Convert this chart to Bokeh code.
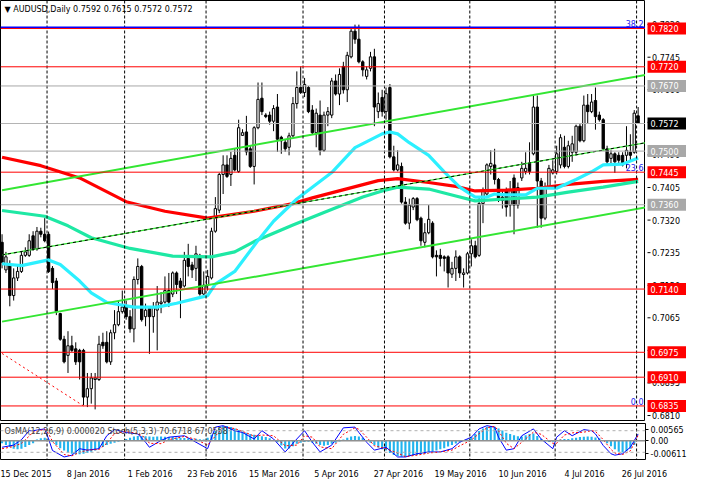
import numpy as np
from bokeh.plotting import figure
from bokeh.models import Range1d, FixedTicker, Label, Span, ColumnDataSource
from bokeh.layouts import column, row
from bokeh.core.properties import value
from bokeh.embed import file_html
from bokeh.resources import INLINE

FONT = "DejaVu Sans"
FS = "8px"

symbol = "AUDUSD,Daily"

opens = [0.7262, 0.7190, 0.7203, 0.7123, 0.7169, 0.7186, 0.7228, 0.7228, 0.7279, 0.7245,
         0.7291, 0.7283, 0.7283, 0.7194, 0.7161, 0.7076, 0.7009, 0.6967, 0.6992, 0.6984,
         0.6980, 0.6980, 0.6858, 0.6880, 0.6904, 0.6904, 0.7001, 0.7001, 0.6950, 0.7026,
         0.7047, 0.7081, 0.7093, 0.7068, 0.7036, 0.7165, 0.7199, 0.7068, 0.7089, 0.7068,
         0.7085, 0.7102, 0.7106, 0.7136, 0.7127, 0.7182, 0.7161, 0.7148, 0.7220, 0.7203,
         0.7194, 0.7228, 0.7127, 0.7150, 0.7169, 0.7291, 0.7346, 0.7439, 0.7464, 0.7439,
         0.7489, 0.7447, 0.7541, 0.7550, 0.7506, 0.7460, 0.7561, 0.7638, 0.7594, 0.7594,
         0.7578, 0.7615, 0.7536, 0.7523, 0.7510, 0.7540, 0.7624, 0.7666, 0.7653, 0.7666,
         0.7607, 0.7548, 0.7594, 0.7502, 0.7594, 0.7594, 0.7683, 0.7649, 0.7721, 0.7660,
         0.7746, 0.7813, 0.7792, 0.7733, 0.7695, 0.7716, 0.7746, 0.7603, 0.7640, 0.7603,
         0.7666, 0.7485, 0.7451, 0.7460, 0.7367, 0.7312, 0.7354, 0.7376, 0.7325, 0.7262,
         0.7287, 0.7312, 0.7228, 0.7228, 0.7224, 0.7224, 0.7179, 0.7194, 0.7224, 0.7178,
         0.7182, 0.7232, 0.7253, 0.7228, 0.7363, 0.7388, 0.7460, 0.7464, 0.7426, 0.7380,
         0.7396, 0.7359, 0.7430, 0.7359, 0.7430, 0.7447, 0.7468, 0.7493, 0.7615, 0.7422,
         0.7325, 0.7405, 0.7443, 0.7447, 0.7464, 0.7510, 0.7460, 0.7497, 0.7497, 0.7565,
         0.7527, 0.7620, 0.7603, 0.7632, 0.7594, 0.7582, 0.7506, 0.7481, 0.7493, 0.7489,
         0.7489, 0.7489, 0.7497, 0.7497, 0.7592]

highs = [0.7283, 0.7237, 0.7215, 0.7194, 0.7203, 0.7237, 0.7249, 0.7283, 0.7291, 0.7302,
         0.7300, 0.7325, 0.7290, 0.7200, 0.7169, 0.7078, 0.7018, 0.7030, 0.7018, 0.7001,
         0.6984, 0.6984, 0.6921, 0.6921, 0.6921, 0.7018, 0.7026, 0.7030, 0.7034, 0.7085,
         0.7110, 0.7136, 0.7110, 0.7085, 0.7173, 0.7220, 0.7203, 0.7102, 0.7095, 0.7106,
         0.7148, 0.7132, 0.7173, 0.7182, 0.7186, 0.7186, 0.7169, 0.7237, 0.7258, 0.7211,
         0.7253, 0.7232, 0.7186, 0.7190, 0.7300, 0.7380, 0.7443, 0.7489, 0.7489, 0.7498,
         0.7506, 0.7582, 0.7557, 0.7592, 0.7515, 0.7565, 0.7679, 0.7679, 0.7599, 0.7603,
         0.7620, 0.7649, 0.7540, 0.7531, 0.7548, 0.7641, 0.7708, 0.7721, 0.7691, 0.7670,
         0.7620, 0.7611, 0.7632, 0.7603, 0.7615, 0.7691, 0.7700, 0.7716, 0.7733, 0.7759,
         0.7822, 0.7830, 0.7830, 0.7737, 0.7721, 0.7759, 0.7767, 0.7653, 0.7660, 0.7666,
         0.7675, 0.7514, 0.7502, 0.7470, 0.7380, 0.7376, 0.7380, 0.7380, 0.7329, 0.7312,
         0.7359, 0.7317, 0.7241, 0.7245, 0.7228, 0.7228, 0.7211, 0.7241, 0.7228, 0.7194,
         0.7237, 0.7270, 0.7266, 0.7380, 0.7405, 0.7468, 0.7502, 0.7506, 0.7430, 0.7396,
         0.7405, 0.7422, 0.7439, 0.7418, 0.7472, 0.7497, 0.7523, 0.7645, 0.7645, 0.7430,
         0.7418, 0.7464, 0.7476, 0.7514, 0.7544, 0.7540, 0.7527, 0.7540, 0.7569, 0.7573,
         0.7645, 0.7649, 0.7649, 0.7666, 0.7603, 0.7586, 0.7514, 0.7502, 0.7497, 0.7497,
         0.7497, 0.7565, 0.7544, 0.7607, 0.7615]

lows = [0.7194, 0.7182, 0.7095, 0.7110, 0.7161, 0.7182, 0.7224, 0.7224, 0.7240, 0.7240,
        0.7275, 0.7262, 0.7182, 0.7140, 0.7072, 0.7005, 0.6946, 0.6921, 0.6976, 0.6942,
        0.6904, 0.6837, 0.6832, 0.6841, 0.6826, 0.6900, 0.6984, 0.6946, 0.6942, 0.7009,
        0.7043, 0.7076, 0.7060, 0.7026, 0.7001, 0.7152, 0.7055, 0.7043, 0.6971, 0.7026,
        0.6980, 0.7077, 0.7102, 0.7093, 0.7119, 0.7127, 0.7064, 0.7144, 0.7173, 0.7169,
        0.7161, 0.7123, 0.7119, 0.7136, 0.7165, 0.7287, 0.7338, 0.7388, 0.7430, 0.7409,
        0.7447, 0.7443, 0.7540, 0.7489, 0.7456, 0.7413, 0.7557, 0.7594, 0.7586, 0.7569,
        0.7552, 0.7498, 0.7493, 0.7498, 0.7489, 0.7536, 0.7611, 0.7649, 0.7641, 0.7599,
        0.7544, 0.7510, 0.7489, 0.7498, 0.7565, 0.7586, 0.7645, 0.7620, 0.7650, 0.7628,
        0.7742, 0.7780, 0.7729, 0.7695, 0.7687, 0.7708, 0.7565, 0.7586, 0.7590, 0.7582,
        0.7481, 0.7447, 0.7447, 0.7363, 0.7308, 0.7296, 0.7346, 0.7317, 0.7253, 0.7249,
        0.7283, 0.7220, 0.7173, 0.7199, 0.7186, 0.7144, 0.7169, 0.7161, 0.7169, 0.7144,
        0.7178, 0.7199, 0.7220, 0.7224, 0.7312, 0.7384, 0.7439, 0.7413, 0.7367, 0.7350,
        0.7329, 0.7329, 0.7283, 0.7350, 0.7422, 0.7439, 0.7439, 0.7489, 0.7300, 0.7300,
        0.7320, 0.7401, 0.7439, 0.7439, 0.7455, 0.7455, 0.7455, 0.7472, 0.7489, 0.7523,
        0.7523, 0.7573, 0.7599, 0.7556, 0.7577, 0.7502, 0.7464, 0.7464, 0.7443, 0.7468,
        0.7460, 0.7455, 0.7472, 0.7493, 0.7572]

closes = [0.7210, 0.7224, 0.7123, 0.7169, 0.7186, 0.7228, 0.7237, 0.7266, 0.7245, 0.7291,
          0.7283, 0.7266, 0.7186, 0.7157, 0.7081, 0.7009, 0.6950, 0.6992, 0.6980, 0.6950,
          0.6950, 0.6858, 0.6880, 0.6908, 0.6908, 0.6996, 0.6992, 0.6950, 0.7026, 0.7047,
          0.7081, 0.7093, 0.7068, 0.7036, 0.7165, 0.7199, 0.7060, 0.7085, 0.7068, 0.7093,
          0.7106, 0.7106, 0.7136, 0.7106, 0.7182, 0.7152, 0.7144, 0.7215, 0.7199, 0.7190,
          0.7232, 0.7127, 0.7150, 0.7173, 0.7291, 0.7350, 0.7439, 0.7464, 0.7434, 0.7481,
          0.7451, 0.7561, 0.7548, 0.7498, 0.7460, 0.7561, 0.7635, 0.7603, 0.7590, 0.7578,
          0.7611, 0.7531, 0.7527, 0.7506, 0.7540, 0.7624, 0.7666, 0.7653, 0.7674, 0.7603,
          0.7548, 0.7599, 0.7502, 0.7594, 0.7603, 0.7683, 0.7649, 0.7700, 0.7660, 0.7750,
          0.7813, 0.7792, 0.7733, 0.7712, 0.7712, 0.7746, 0.7615, 0.7624, 0.7603, 0.7650,
          0.7485, 0.7451, 0.7464, 0.7367, 0.7312, 0.7359, 0.7376, 0.7321, 0.7266, 0.7287,
          0.7322, 0.7224, 0.7224, 0.7220, 0.7220, 0.7182, 0.7194, 0.7224, 0.7182, 0.7182,
          0.7232, 0.7253, 0.7224, 0.7363, 0.7396, 0.7464, 0.7468, 0.7426, 0.7371, 0.7371,
          0.7354, 0.7397, 0.7359, 0.7405, 0.7455, 0.7455, 0.7447, 0.7615, 0.7422, 0.7325,
          0.7405, 0.7455, 0.7451, 0.7493, 0.7535, 0.7460, 0.7514, 0.7519, 0.7565, 0.7527,
          0.7620, 0.7603, 0.7628, 0.7590, 0.7582, 0.7506, 0.7472, 0.7493, 0.7472, 0.7476,
          0.7464, 0.7502, 0.7489, 0.7599, 0.7572]

# moving averages (read at sample bars)
red_ma_idx = [0, 10, 20, 32, 42, 53, 65, 75, 80, 97, 102, 110, 117, 122, 130, 138, 146, 155, 164]
red_ma = [0.7484, 0.7462, 0.7430, 0.7368, 0.7343, 0.7325, 0.7343, 0.7363, 0.7378, 0.7423,
          0.7428, 0.7418, 0.7408, 0.7396, 0.7398, 0.7403, 0.7413, 0.7421, 0.7426]
teal_ma_idx = [0, 11, 17, 23, 33, 44, 54, 60, 65, 75, 83, 93, 98, 102, 110, 117, 122, 130, 138, 146, 155, 164]
teal_ma = [0.7345, 0.7330, 0.7305, 0.7274, 0.7246, 0.7226, 0.7224, 0.7237, 0.7264, 0.7307,
           0.7340, 0.7380, 0.7396, 0.7406, 0.7401, 0.7383, 0.7370, 0.7375, 0.7380, 0.7393,
           0.7406, 0.7421]
cyan_ma_idx = [0, 5, 12, 15, 20, 23, 27, 34, 40, 45, 53, 55, 60, 66, 70, 76, 85, 91, 98, 100,
               102, 105, 110, 114, 118, 122, 125, 127, 130, 135, 138, 143, 148, 152, 155, 160, 164]
cyan_ma = [0.7206, 0.7201, 0.7216, 0.7204, 0.7161, 0.7130, 0.7105, 0.7093, 0.7093, 0.7103,
           0.7123, 0.7153, 0.7186, 0.7267, 0.7317, 0.7375, 0.7444, 0.7509, 0.7545, 0.7550,
           0.7545, 0.7522, 0.7489, 0.7446, 0.7406, 0.7380, 0.7380, 0.7388, 0.7386, 0.7386,
           0.7403, 0.7403, 0.7426, 0.7446, 0.7464, 0.7466, 0.7482]

# trend channel (bar index, price)
channel_x = [0, 166]
channel_upper = [0.7398, 0.7699]
channel_mid = [0.7229, 0.7522]
channel_lower = [0.7055, 0.7353]
fib_trend_x = [0, 21]
fib_trend_y = [0.6972, 0.6835]

red_levels = [0.7820, 0.7720, 0.7445, 0.7140, 0.6975, 0.6910, 0.6835]
gray_levels = [0.7670, 0.7500, 0.7360]
fib_pct = ["38.2", "23.6", "0.0"]
fib_price = [0.7820, 0.7445, 0.6835]
price_ticks = [0.6810, 0.6895, 0.6980, 0.7065, 0.7150, 0.7235, 0.7320, 0.7405,
               0.7490, 0.7575, 0.7660, 0.7745, 0.7830]

period_start_bars = [12, 32, 53, 78, 99, 121, 143, 164]
date_bars = [0, 16, 32, 48, 64, 80, 96, 112, 128, 144, 160]
date_labels = ["15 Dec 2015", "8 Jan 2016", "1 Feb 2016", "23 Feb 2016", "15 Mar 2016",
               "5 Apr 2016", "27 Apr 2016", "19 May 2016", "10 Jun 2016", "4 Jul 2016", "26 Jul 2016"]

osma = [-0.0008, -0.0014, -0.0020,
        -0.0026, -0.0028, -0.0026, -0.0020, -0.0014, -0.0008,
        0.0004, 0.0008, 0.0010,
        0.0004, -0.0004,
        -0.0014, -0.0024, -0.0032, -0.0038, -0.0042, -0.0044, -0.0044, -0.0042, -0.0040, -0.0036, -0.0032, -0.0026,
        -0.0020, -0.0014, -0.0010, -0.0006, -0.0003, -0.0001,
        0.0006, 0.0010, 0.0014, 0.0016, 0.0016, 0.0015, 0.0014, 0.0013, 0.0014, 0.0014, 0.0013, 0.0012, 0.0012, 0.0011, 0.0010,
        0.0009, 0.0008, 0.0007, 0.0007, 0.0005, 0.0004,
        0.0010, 0.0020, 0.0032, 0.0042, 0.0048, 0.0048, 0.0045, 0.0040, 0.0035, 0.0030, 0.0026, 0.0022, 0.0020, 0.0018,
        0.0015, 0.0012, 0.0008, 0.0002,
        -0.0005, -0.0015, -0.0025, -0.0025, -0.0018,
        -0.0010, -0.0006, -0.0004, -0.0003,
        -0.0006, -0.0010, -0.0014, -0.0016, -0.0014, -0.0010, -0.0006, -0.0002,
        0.0004, 0.0010, 0.0014, 0.0016, 0.0014, 0.0010,
        0.0002, -0.0006, -0.0014, -0.0022, -0.0028, -0.0032,
        -0.0040, -0.0046, -0.0050, -0.0052, -0.0052, -0.0050, -0.0048, -0.0046, -0.0044, -0.0042,
        -0.0040, -0.0036, -0.0032, -0.0028, -0.0024, -0.0019, -0.0014, -0.0009,
        -0.0005, -0.0001, 0.0004,
        0.0012, 0.0022, 0.0032, 0.0040, 0.0046, 0.0048, 0.0046, 0.0040, 0.0034,
        0.0026, 0.0022, 0.0018, 0.0015, 0.0014, 0.0018, 0.0022, 0.0024, 0.0016, 0.0006, -0.0002, -0.0004, -0.0003, 0.0000,
        0.0004, 0.0006, 0.0006, 0.0008, 0.0010, 0.0012, 0.0013, 0.0014, 0.0013, 0.0011, 0.0008,
        0.0002, -0.0008, -0.0018, -0.0028, -0.0036, -0.0038, -0.0034, -0.0026, -0.0014,
        0.00002]
osma_top, osma_bottom = 0.00565, -0.00611

stoch_idx = [0, 3, 5, 7, 8, 11, 12, 13, 16, 18, 20, 22, 25, 27, 29, 32, 35, 37, 38, 41,
             43, 47, 50, 53, 55, 57, 60, 62, 65, 67, 70, 73, 76, 78, 80, 82, 85, 88, 91, 92,
             94, 96, 99, 102, 104, 107, 110, 113, 116, 118, 121, 123, 125, 127, 128, 130, 132, 134, 137, 139,
             142, 143, 145, 147, 150, 152, 153, 155, 157, 158, 160, 162, 164]
stoch_main = [34, 40, 55, 80, 80, 85, 57, 25, 7, 12, 30, 26, 30, 66, 83, 75, 71, 48, 34, 53,
              62, 66, 48, 30, 90, 94, 80, 75, 57, 80, 57, 21, 57, 80, 48, 21, 40, 88, 90, 75,
              48, 26, 34, 7, 7, 16, 21, 21, 30, 48, 62, 85, 94, 90, 62, 26, 30, 66, 85, 57,
              30, 62, 80, 66, 83, 80, 71, 39, 16, 12, 16, 34, 71]
stoch_signal = [30, 36, 45, 65, 76, 84, 72, 50, 14, 10, 20, 26, 28, 45, 72, 78, 72, 60, 45, 44,
                55, 64, 56, 40, 65, 90, 86, 78, 65, 68, 66, 38, 40, 66, 62, 35, 30, 70, 88, 84,
                62, 38, 30, 18, 8, 12, 18, 21, 26, 38, 54, 72, 88, 92, 80, 45, 30, 48, 76, 70,
                45, 45, 68, 74, 76, 80, 78, 55, 28, 18, 14, 24, 67]
stoch_levels = [80, 20]
osc_axis_ticks = [18, 52, 82]
osc_axis_labels = ["-0.00611", "0.00", "0.00565"]

# ---------------- main price panel ----------------
X0, X1 = -0.4, 165.9
Y0, Y1 = 0.6797, 0.7893
FW = 645
SW = 41
MH = 420

p = figure(frame_width=FW, frame_height=MH, x_range=Range1d(X0, X1), y_range=Range1d(Y0, Y1),
           x_axis_location=None, y_axis_location=None, output_backend="svg",
           toolbar_location=None, min_border_left=0, min_border_top=0,
           min_border_bottom=3, min_border_right=0)
p.grid.visible = False
p.outline_line_color = "black"
p.outline_line_width = 1
p.background_fill_color = "white"
p.border_fill_color = "white"

for b in period_start_bars:
    p.add_layout(Span(location=b - 0.4, dimension="height", line_color="black",
                      line_width=1, line_dash="3 2"))

o = np.array(opens); h = np.array(highs); l = np.array(lows); c = np.array(closes)
idx = np.arange(len(closes))
src = ColumnDataSource(dict(x=idx, hi=h, lo=l, top=np.maximum(o, c), bot=np.minimum(o, c),
                            fill=["white" if cc >= oo else "black" for oo, cc in zip(opens, closes)]))
p.segment(x0="x", y0="lo", x1="x", y1="hi", source=src, line_color="black", line_width=1)
p.vbar(x="x", width=0.6, top="top", bottom="bot", source=src, fill_color="fill",
       line_color="black", line_width=1)

p.line(red_ma_idx, red_ma, line_color="#FF0000", line_width=3.2)
p.line(teal_ma_idx, teal_ma, line_color="#1EE8A4", line_width=3.2)
p.line(cyan_ma_idx, cyan_ma, line_color="#2CF0FF", line_width=3.2)

p.line(channel_x, channel_upper, line_color="#33E633", line_width=2)
p.line(channel_x, channel_lower, line_color="#33E633", line_width=2)
p.line(channel_x, channel_mid, line_color="#33E633", line_width=1.2)
p.line(channel_x, channel_mid, line_color="black", line_width=1, line_dash="3 3")
p.line(fib_trend_x, fib_trend_y, line_color="#FF0000", line_width=1, line_dash="2 3")

p.add_layout(Span(location=fib_price[0] + 0.00025, dimension="width", line_color="#0000FF", line_width=2))
for lv in red_levels:
    p.add_layout(Span(location=lv, dimension="width", line_color="#FF0000", line_width=1))
for lv in gray_levels:
    p.add_layout(Span(location=lv, dimension="width", line_color="#A8A8A8", line_width=1))
p.add_layout(Span(location=closes[-1], dimension="width", line_color="#B4B4B4", line_width=1))

for t, lv in zip(fib_pct, fib_price):
    p.add_layout(Label(x=X1 - 0.5, y=lv, text=t, text_align="right", text_baseline="bottom",
                       y_offset=1, text_font=FONT, text_font_size=FS, text_color="#1818F0"))

header = "\u25BC %s  %.4f %.4f %.4f %.4f" % (symbol, opens[-1], highs[-1], lows[-1], closes[-1])
p.add_layout(Label(x=4, y=MH - 9, x_units="screen", y_units="screen", text=header,
                   text_baseline="middle", text_font=FONT, text_font_size=FS, text_color="black"))

# ---------------- price scale column ----------------
ps = figure(frame_width=SW, frame_height=MH, x_range=Range1d(0, SW), y_range=p.y_range,
            x_axis_location=None, y_axis_location=None, output_backend="svg",
            toolbar_location=None, min_border_left=0, min_border_top=0,
            min_border_bottom=3, min_border_right=0)
ps.grid.visible = False
ps.outline_line_color = None
ps.background_fill_color = "white"
ps.border_fill_color = "white"
ps.segment(x0=[2] * len(price_ticks), y0=price_ticks, x1=[5] * len(price_ticks), y1=price_ticks,
           line_color="black", line_width=1)
ps.text(x=[6.5] * len(price_ticks), y=price_ticks, text=["%.4f" % t for t in price_ticks],
        text_font=value(FONT), text_font_size=value(FS), text_color="black",
        text_baseline="middle", text_align="left")

box_levels = red_levels + gray_levels + [closes[-1]]
box_colors = ["#FF0000"] * len(red_levels) + ["#A8A8A8"] * len(gray_levels) + ["black"]
ps.rect(x=[21.5] * len(box_levels), y=box_levels, width=39, height=12, height_units="screen",
        fill_color=box_colors, line_color=None)
ps.text(x=[5] * len(box_levels), y=box_levels, text=["%.4f" % v for v in box_levels],
        text_font=value(FONT), text_font_size=value(FS), text_color="white",
        text_baseline="middle", text_align="left")

# ---------------- oscillator panel ----------------
q = figure(frame_width=FW, frame_height=36, x_range=p.x_range, y_range=Range1d(0, 100),
           y_axis_location="right", output_backend="svg", toolbar_location=None,
           min_border_left=0, min_border_top=0, min_border_bottom=18, min_border_right=SW)
q.extra_y_ranges = {"osma": Range1d(osma_bottom, osma_top)}
q.grid.visible = False
q.outline_line_color = "black"
q.background_fill_color = "white"
q.border_fill_color = "white"

for b in period_start_bars:
    q.add_layout(Span(location=b - 0.4, dimension="height", line_color="black",
                      line_width=1, line_dash="3 2"))
for lv in stoch_levels:
    q.add_layout(Span(location=lv, dimension="width", line_color="#B0B0B0", line_width=1, line_dash="3 3"))
q.add_layout(Span(location=0, dimension="width", y_range_name="osma", line_color="#909090", line_width=1.5))

q.vbar(x=idx, width=0.55, top=osma, bottom=0, y_range_name="osma",
       fill_color="#22B4EE", line_color=None)
q.line(stoch_idx, stoch_main, line_color="#0000FF", line_width=1)
q.line(stoch_idx, stoch_signal, line_color="#FF0000", line_width=1, line_dash="2 2")

q.add_layout(Label(x=4, y=28, x_units="screen", y_units="screen",
                   text="OsMA(12,26,9) 0.000020  Stoch(5,3,3) 70.6718 67.0558",
                   text_baseline="middle", text_font=FONT, text_font_size=FS, text_color="#404040"))

qa = q.yaxis[0]
qa.ticker = FixedTicker(ticks=osc_axis_ticks)
qa.major_label_overrides = {t: lab for t, lab in zip(osc_axis_ticks, osc_axis_labels)}
qa.major_label_text_font = FONT
qa.major_label_text_font_size = FS
qa.major_label_text_color = "black"
qa.major_tick_out = 3
qa.major_tick_in = 0
qa.minor_tick_out = 0
qa.minor_tick_in = 0
qa.axis_line_color = None
qa.major_label_standoff = 2

date_pos = [min(b + 6.2, X1 - 0.3) for b in date_bars]
xa = q.xaxis[0]
xa.ticker = FixedTicker(ticks=date_pos)
xa.major_label_overrides = {pos: lab for pos, lab in zip(date_pos, date_labels)}
xa.major_label_text_font = FONT
xa.major_label_text_font_size = FS
xa.major_label_text_color = "black"
xa.axis_line_color = None
xa.major_tick_line_color = None
xa.minor_tick_line_color = None
xa.major_label_standoff = 4

layout = column(row(p, ps), q)
open("out.html", "w").write(file_html(layout, INLINE))
